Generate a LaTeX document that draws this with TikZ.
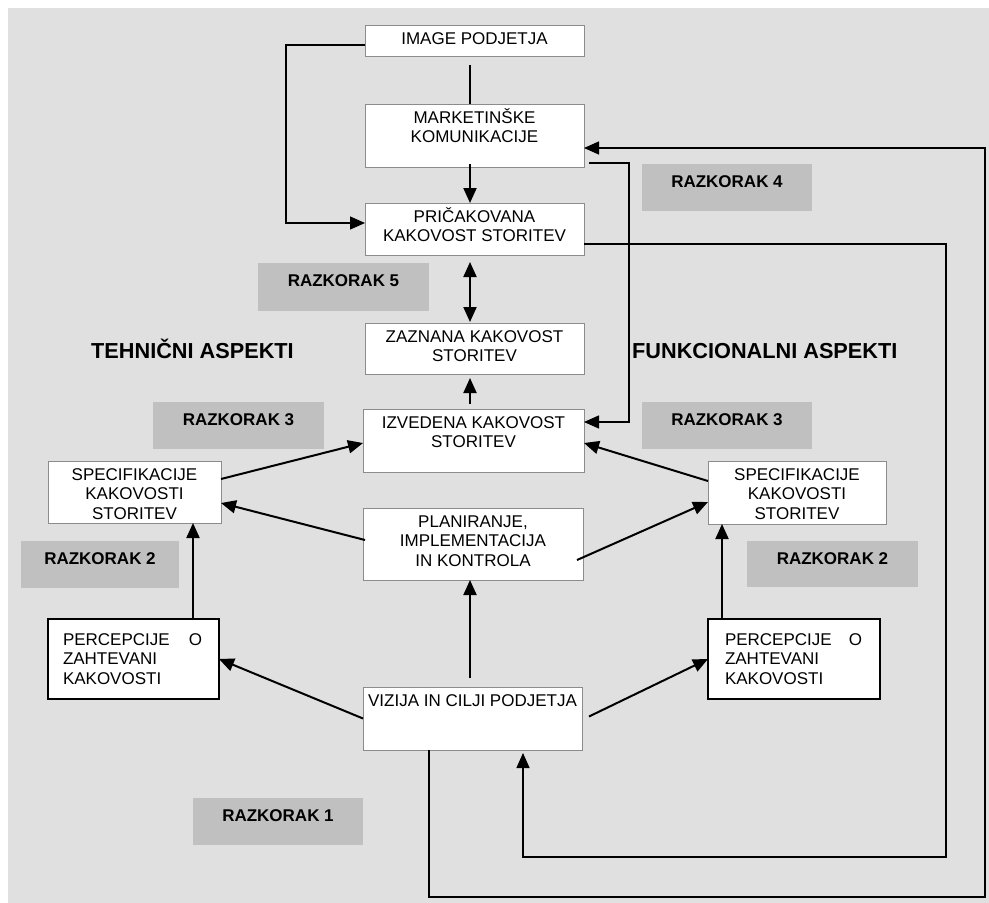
\documentclass[tikz,border=0pt]{standalone}
\usepackage{fontspec}
\setmainfont{Liberation Sans}
\usetikzlibrary{arrows.meta,calc}
\definecolor{bggray}{HTML}{E0E0E0}
\definecolor{gapgray}{HTML}{C0C0C0}
\definecolor{edgegray}{HTML}{8C8C8C}
\newcommand{\tbox}[4][\centering]{\parbox[c][#3pt][t]{#2pt}{#1\vspace*{3pt}\rule{0pt}{16pt}#4}}
\tikzset{
  box/.style={draw=edgegray,line width=0.8pt,fill=white,inner sep=0pt,outer sep=0pt,
    anchor=north west,font=\fontsize{17}{19.5}\selectfont},
  thickbox/.style={box,draw=black,line width=2pt},
  gap/.style={fill=gapgray,inner sep=0pt,outer sep=0pt,anchor=north west,
    font=\bfseries\fontsize{17}{19.5}\selectfont},
  head/.style={anchor=base west,inner sep=0pt,font=\bfseries\fontsize{21.7}{24}\selectfont},
  main/.style={line width=2pt},
  feed/.style={line width=1.4pt},
}
\begin{document}
\begin{tikzpicture}[x=1pt,y=-1pt,>={Triangle[length=15pt,width=13pt]}]
  \useasboundingbox (0,0) rectangle (989,903);
  \fill[white] (0,0) rectangle (989,903);
  \fill[bggray] (8,8) rectangle (989,903);
  \coordinate (axis) at (470,0);

  \node[gap] (gap4) at (642,164) {\tbox[\centering\vspace*{4.5pt}]{170}{47}{RAZKORAK 4}};
  \node[gap] (gap5) at (258,263) {\tbox[\centering\vspace*{4.5pt}]{171}{48}{RAZKORAK 5}};
  \node[gap] (gap3l) at (153,402) {\tbox[\centering\vspace*{4.5pt}]{171}{47}{RAZKORAK 3}};
  \node[gap] (gap3r) at (642,402) {\tbox[\centering\vspace*{4.5pt}]{170}{47}{RAZKORAK 3}};
  \node[gap] (gap2l) at (21,541) {\tbox[\centering\vspace*{4.5pt}]{158}{47}{RAZKORAK 2}};
  \node[gap] (gap2r) at (747,541) {\tbox[\centering\vspace*{4.5pt}]{171}{46}{RAZKORAK 2}};
  \node[gap] (gap1) at (193,798) {\tbox[\centering\vspace*{4.5pt}]{170}{47}{RAZKORAK 1}};

  \node[head] (tehn) at (91,358) {TEHNIČNI ASPEKTI};
  \node[head] (funk) at (632,358) {FUNKCIONALNI ASPEKTI};

  \node[box] (img) at (365,25) {\tbox{219}{31}{IMAGE PODJETJA}};
  \node[box] (mark) at (365,104) {\tbox{219}{63}{MARKETINŠKE\\KOMUNIKACIJE}};
  \node[box] (prica) at (365,203) {\tbox{219}{52}{PRIČAKOVANA\\KAKOVOST STORITEV}};
  \node[box] (zazn) at (365,323) {\tbox{219}{51}{ZAZNANA KAKOVOST\\STORITEV}};
  \node[box] (izv) at (363,409) {\tbox{221}{63}{IZVEDENA KAKOVOST\\STORITEV}};
  \node[box] (plan) at (363,508) {\tbox{220}{72}{PLANIRANJE,\\IMPLEMENTACIJA\\IN KONTROLA}};
  \node[box] (vizija) at (363,687) {\tbox{219}{63}{VIZIJA IN CILJI PODJETJA}};
  \node[box] (specl) at (48,461) {\tbox{173}{62}{SPECIFIKACIJE\\KAKOVOSTI\\STORITEV}};
  \node[box] (specr) at (708,461) {\tbox{178}{63}{SPECIFIKACIJE\\KAKOVOSTI\\STORITEV}};
  \node[thickbox] (percl) at (48,619)
    {\tbox[\leftskip=15pt\rightskip=17pt\vspace*{7pt}]{171}{80}{PERCEPCIJE\hfill O\\ZAHTEVANI\\KAKOVOSTI}};
  \node[thickbox] (percr) at (708,619)
    {\tbox[\leftskip=17pt\rightskip=18pt\vspace*{7pt}]{172}{80}{PERCEPCIJE\hfill O\\ZAHTEVANI\\KAKOVOSTI}};

  \draw[feed] ($(img.south-|axis)+(0,9)$) -- (mark.north-|axis);
  \draw[main,->] ($(mark.south-|axis)+(0,-3)$) -- (prica.north-|axis);
  \draw[main,<->] ($(prica.south-|axis)+(0,7)$) -- ($(zazn.north-|axis)+(0,-1)$);
  \draw[main,->] ($(izv.north-|axis)+(0,-5)$) -- ($(zazn.south-|axis)+(0,4)$);
  \draw[main,->] ($(vizija.north-|axis)+(0,-9)$) -- (plan.south-|axis);

  \draw[main,->] ($(specl.east)+(0,-13)$) -- ($(izv.west)+(0,2.5)$);
  \draw[main,->] ($(plan.west)+(2,-4)$) -- ($(specl.east)+(0,11)$);
  \draw[main,->] ($(percl.north)+(59.5,0)$) -- ($(specl.south)+(58.5,0)$);
  \draw[main,->] (vizija.west) -- (percl.east);
  \draw[main,->] ($(specr.west)+(0,-11.5)$) -- ($(izv.east)+(0,2.5)$);
  \draw[main,->] ($(plan.east)+(-6,16)$) -- ($(specr.west)+(0,9.5)$);
  \draw[main,->] ($(percr.north)+(-72,0)$) -- ($(specr.south)+(-75,0)$);
  \draw[main,->] ($(vizija.east)+(7,-2)$) -- (percr.west);

  \draw[feed,->] ($(img.west)+(0,4.5)$) -- ++(-79,0) |- ($(prica.west)+(0,-6)$);
  \draw[feed,->] ($(mark.south east)+(5,-4)$) -- ++(40,0) |- ($(izv.east)+(0,-18.5)$);
  \draw[feed,->] ($(prica.east)+(0,15)$) -- ++(362,0) |- ($(vizija.south)+(50.5,107)$)
    -- ($(vizija.south)+(50.5,3)$);
  \draw[feed,->] ($(vizija.south)+(-43.5,0)$) -- ++(0,147) -| ($(mark.east)+(401,12.5)$)
    -- ($(mark.east)+(0,12.5)$);
\end{tikzpicture}
\end{document}
